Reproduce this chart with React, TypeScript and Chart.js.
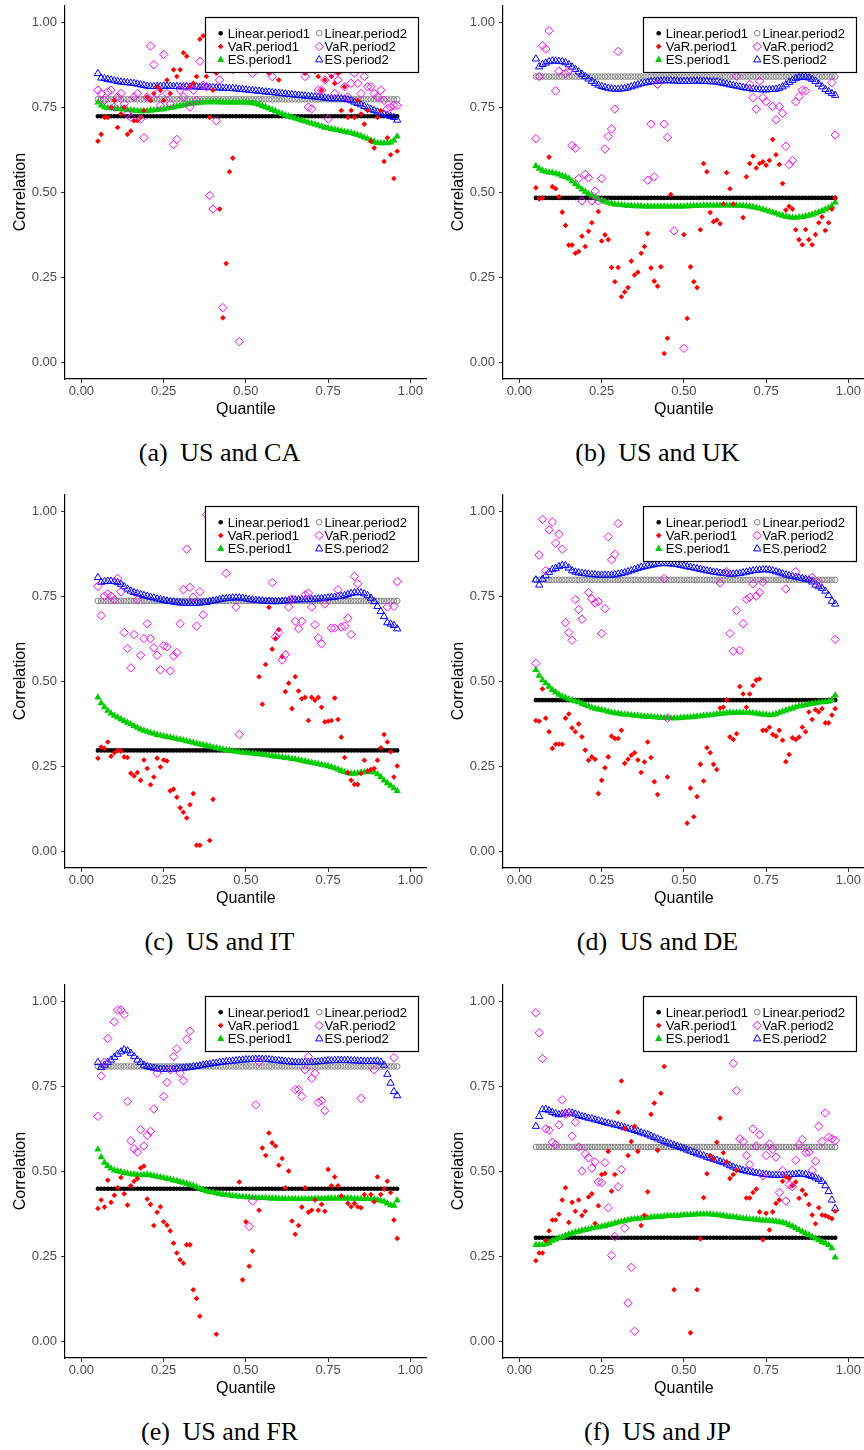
import React, { useEffect, useRef } from "react";
import { Chart, registerables } from "chart.js";

Chart.register(...registerables);

// ---------------- DATA ----------------
const QUANTILES = [
  0.05, 0.06, 0.07, 0.08, 0.09, 0.1, 0.11, 0.12, 0.13, 0.14,
  0.15, 0.16, 0.17, 0.18, 0.19, 0.2, 0.21, 0.22, 0.23, 0.24,
  0.25, 0.26, 0.27, 0.28, 0.29, 0.3, 0.31, 0.32, 0.33, 0.34,
  0.35, 0.36, 0.37, 0.38, 0.39, 0.4, 0.41, 0.42, 0.43, 0.44,
  0.45, 0.46, 0.47, 0.48, 0.49, 0.5, 0.51, 0.52, 0.53, 0.54,
  0.55, 0.56, 0.57, 0.58, 0.59, 0.6, 0.61, 0.62, 0.63, 0.64,
  0.65, 0.66, 0.67, 0.68, 0.69, 0.7, 0.71, 0.72, 0.73, 0.74,
  0.75, 0.76, 0.77, 0.78, 0.79, 0.8, 0.81, 0.82, 0.83, 0.84,
  0.85, 0.86, 0.87, 0.88, 0.89, 0.9, 0.91, 0.92, 0.93, 0.94,
  0.95, 0.96,
];
const TICK_VALUES = [0, 0.25, 0.5, 0.75, 1];
const SERIES_NAMES = ["Linear.period1", "Linear.period2", "VaR.period1", "VaR.period2", "ES.period1", "ES.period2"];

// (a) US and CA
const LINEAR_A = [0.723, 0.773];
const VAR1_A = [
  0.65, 0.67, 0.72, 0.72, 0.75, 0.77, 0.69, 0.73, 0.75, 0.67,
  0.68, 0.71, 0.71, 0.72, 0.74, 0.78, 0.77, 0.79, 0.81, 0.8,
  0.77, 0.83, 0.79, 0.86, 0.84, 0.86, 0.91, 0.9, 0.81, 0.82,
  0.84, 0.95, 0.96, 0.84, 0.72, 0.8, 0.85, 0.45, 0.13, 0.29,
  0.56, 0.6, 0.88, 0.92, 0.87, 0.9, 0.93, 0.89, 0.86, 0.91,
  0.94, 0.88, 0.85, 0.9, 0.87, 0.83, 0.92, 0.95, 0.9, 0.88,
  0.86, 0.91, 0.89, 0.85, 0.88, 0.92, 0.87, 0.84, 0.8, 0.83,
  0.86, 0.84, 0.82, 0.85, 0.74, 0.81, 0.72, 0.74, 0.72, 0.77,
  0.73, 0.7, 0.74, 0.65, 0.63, 0.72, 0.74, 0.59, 0.66, 0.61,
  0.54, 0.62,
];
const VAR2_A = [
  0.8, 0.79, 0.77, 0.795, 0.8, 0.75, 0.78, 0.79, 0.76, 0.73,
  0.72, 0.78, 0.79, 0.715, 0.66, 0.78, 0.93, 0.875, 0.79, 0.755,
  0.905, 0.79, 0.76, 0.64, 0.655, 0.8, 0.78, 0.81, 0.75, 0.8,
  0.77, 0.885, 0.815, 0.81, 0.49, 0.45, 0.71, 0.83, 0.16, 0.88,
  0.94, 0.86, 0.9, 0.06, 0.92, 0.88, 0.95, 0.85, 0.9, 0.87,
  0.93, 0.89, 0.86, 0.84, 0.9, 0.92, 0.88, 1.0, 1.0, 0.94,
  0.9, 0.87, 0.91, 0.84, 0.75, 0.745, 0.86, 0.8, 0.8, 0.83,
  0.715, 0.85, 0.79, 0.83, 0.86, 0.81, 0.78, 0.82, 0.85, 0.82,
  0.79, 0.84, 0.81, 0.81, 0.79, 0.78, 0.8, 0.77, 0.745, 0.75,
  0.755, 0.755,
];
const ES1_A = [
  0.764, 0.755, 0.75, 0.748, 0.747, 0.746, 0.745, 0.744, 0.743, 0.742,
  0.741, 0.74, 0.739, 0.738, 0.738, 0.739, 0.74, 0.741, 0.742, 0.743,
  0.744, 0.746, 0.748, 0.75, 0.752, 0.754, 0.756, 0.758, 0.76, 0.761,
  0.762, 0.763, 0.764, 0.765, 0.765, 0.765, 0.765, 0.765, 0.764, 0.764,
  0.764, 0.764, 0.764, 0.764, 0.764, 0.764, 0.763, 0.762, 0.76, 0.757,
  0.754, 0.75, 0.746, 0.742, 0.738, 0.734, 0.73, 0.726, 0.723, 0.72,
  0.717, 0.714, 0.711, 0.708, 0.705, 0.702, 0.699, 0.696, 0.693, 0.69,
  0.688, 0.686, 0.684, 0.682, 0.68, 0.678, 0.676, 0.674, 0.671, 0.668,
  0.665, 0.661, 0.657, 0.652, 0.648, 0.645, 0.644, 0.644, 0.645, 0.646,
  0.652, 0.664,
];
const ES2_A = [
  0.849, 0.836, 0.834, 0.832, 0.83, 0.828, 0.826, 0.824, 0.823, 0.822,
  0.821, 0.82, 0.818, 0.816, 0.814, 0.812, 0.811, 0.811, 0.811, 0.811,
  0.812, 0.812, 0.812, 0.811, 0.811, 0.81, 0.81, 0.81, 0.81, 0.81,
  0.81, 0.809, 0.809, 0.809, 0.808, 0.808, 0.807, 0.807, 0.806, 0.806,
  0.805, 0.805, 0.804, 0.803, 0.802, 0.801, 0.8, 0.799, 0.798, 0.797,
  0.796, 0.795, 0.794, 0.793, 0.792, 0.791, 0.79, 0.789, 0.788, 0.787,
  0.786, 0.785, 0.784, 0.783, 0.782, 0.781, 0.78, 0.779, 0.778, 0.777,
  0.776, 0.775, 0.775, 0.775, 0.775, 0.774, 0.772, 0.769, 0.765, 0.761,
  0.757, 0.752, 0.748, 0.744, 0.74, 0.736, 0.732, 0.729, 0.726, 0.723,
  0.72, 0.712,
];

// (b) US and UK
const LINEAR_B = [0.483, 0.84];
const VAR1_B = [
  0.513, 0.48, 0.483, null, 0.603, 0.516, 0.51, 0.486, 0.441, 0.402,
  0.344, 0.344, 0.32, 0.325, 0.37, 0.34, 0.385, 0.41, null, 0.443,
  0.356, 0.374, 0.36, 0.278, 0.236, 0.278, 0.192, 0.206, 0.219, 0.297,
  0.256, 0.264, 0.32, 0.34, 0.378, 0.277, 0.238, 0.223, 0.28, 0.025,
  0.07, 0.493, null, null, null, 0.375, 0.128, 0.28, 0.236, 0.219,
  0.389, 0.584, 0.56, 0.44, 0.413, 0.418, 0.407, 0.465, 0.557, 0.51,
  0.465, null, null, 0.425, 0.545, 0.584, 0.606, 0.571, 0.584, 0.589,
  0.579, 0.593, 0.655, 0.61, 0.581, 0.525, 0.447, 0.458, 0.45, 0.389,
  0.36, 0.345, 0.39, 0.36, 0.345, 0.375, 0.41, 0.427, 0.387, 0.41,
  0.45, 0.483,
];
const VAR2_B = [
  0.657, 0.84, 0.931, 0.921, 0.975, null, 0.798, 0.856, null, 0.849,
  0.856, 0.637, 0.629, 0.54, 0.474, 0.552, 0.542, 0.474, 0.503, 0.474,
  0.54, 0.627, 0.664, 0.686, 0.744, 0.914, null, null, null, null,
  null, null, null, null, 0.535, 0.7, 0.545, 0.817, null, 0.7,
  0.661, null, 0.386, null, null, 0.04, null, null, null, null,
  null, null, null, null, null, null, null, null, null, null,
  null, 0.841, null, null, null, 0.817, 0.778, 0.744, 0.827, 0.778,
  0.766, null, 0.752, 0.713, 0.752, 0.732, 0.635, 0.581, 0.593, 0.766,
  0.781, 0.8, 0.798, null, null, null, null, null, null, null,
  0.822, 0.668,
];
const ES1_B = [
  0.577, 0.569, 0.563, 0.56, 0.558, 0.557, 0.555, 0.552, 0.548, 0.545,
  0.54, 0.532, 0.524, 0.516, 0.508, 0.501, 0.495, 0.49, 0.485, 0.48,
  0.476, 0.472, 0.469, 0.466, 0.464, 0.463, 0.462, 0.461, 0.46, 0.46,
  0.459, 0.459, 0.459, 0.458, 0.458, 0.458, 0.458, 0.458, 0.458, 0.458,
  0.458, 0.458, 0.458, 0.458, 0.458, 0.458, 0.459, 0.459, 0.46, 0.46,
  0.46, 0.461, 0.461, 0.461, 0.461, 0.461, 0.461, 0.461, 0.461, 0.461,
  0.461, 0.461, 0.46, 0.46, 0.459, 0.458, 0.456, 0.454, 0.452, 0.449,
  0.446, 0.443, 0.44, 0.437, 0.434, 0.431, 0.428, 0.426, 0.425, 0.425,
  0.426, 0.427, 0.429, 0.431, 0.434, 0.437, 0.441, 0.445, 0.449, 0.453,
  0.459, 0.47,
];
const ES2_B = [
  0.892, 0.869, 0.876, 0.88, 0.884, 0.886, 0.886, 0.885, 0.884, 0.881,
  0.875, 0.868, 0.861, 0.854, 0.847, 0.84, 0.833, 0.826, 0.82, 0.815,
  0.811, 0.808, 0.806, 0.804, 0.803, 0.803, 0.804, 0.805, 0.807, 0.81,
  0.813, 0.816, 0.819, 0.821, 0.823, 0.825, 0.826, 0.827, 0.827, 0.828,
  0.828, 0.828, 0.827, 0.827, 0.826, 0.826, 0.826, 0.826, 0.827, 0.827,
  0.827, 0.826, 0.826, 0.825, 0.825, 0.824, 0.822, 0.82, 0.818, 0.816,
  0.814, 0.812, 0.81, 0.808, 0.806, 0.805, 0.803, 0.802, 0.802, 0.801,
  0.801, 0.802, 0.802, 0.803, 0.806, 0.81, 0.816, 0.823, 0.829, 0.834,
  0.837, 0.838, 0.838, 0.836, 0.832, 0.826, 0.818, 0.81, 0.802, 0.796,
  0.79, 0.785,
];

// (c) US and IT
const LINEAR_C = [0.296, 0.736];
const VAR1_C = [
  0.273, 0.306, 0.302, 0.321, 0.279, 0.289, 0.296, 0.294, 0.277, 0.275,
  0.229, 0.221, 0.231, 0.208, 0.268, 0.243, 0.195, 0.218, 0.273, 0.247,
  0.268, 0.265, 0.177, 0.182, 0.158, 0.127, 0.114, 0.097, 0.136, 0.169,
  0.017, 0.017, null, null, 0.031, 0.152, null, null, null, null,
  null, null, null, null, null, null, null, null, null, 0.513,
  0.432, 0.549, 0.717, 0.594, 0.625, 0.652, 0.572, 0.469, 0.494, 0.419,
  0.513, 0.471, 0.448, 0.452, 0.384, 0.452, 0.444, 0.452, 0.423, 0.38,
  0.382, 0.384, 0.45, 0.387, 0.335, 0.275, 0.23, 0.208, 0.196, 0.196,
  0.228, 0.267, 0.235, 0.24, 0.243, 0.267, 0.304, 0.343, 0.321, 0.292,
  0.218, 0.25,
];
const VAR2_C = [
  0.779, 0.693, 0.75, 0.757, 0.75, 0.74, 0.802, 0.763, 0.643, 0.596,
  0.539, 0.637, 0.74, 0.576, 0.625, 0.669, 0.625, 0.598, 0.576, 0.533,
  0.604, 0.601, 0.53, 0.574, 0.584, 0.669, 0.769, 0.888, 0.776, 0.747,
  0.662, 0.763, 0.695, 0.99, null, null, null, null, null, 0.817,
  null, null, 0.718, 0.343, null, null, null, null, null, null,
  null, null, null, 0.79, 0.63, 0.643, 0.562, 0.578, 0.718, 0.742,
  0.676, 0.654, 0.676, 0.754, 0.759, 0.718, 0.666, 0.627, 0.61, 0.727,
  null, 0.656, 0.656, 0.769, 0.659, 0.662, 0.685, 0.637, 0.808, 0.786,
  null, null, null, null, null, null, null, null, 0.718, null,
  0.72, 0.793,
];
const ES1_C = [
  0.452, 0.435, 0.423, 0.413, 0.405, 0.398, 0.393, 0.388, 0.383, 0.378,
  0.373, 0.368, 0.363, 0.358, 0.354, 0.351, 0.348, 0.345, 0.342, 0.34,
  0.338, 0.336, 0.334, 0.332, 0.33, 0.328, 0.326, 0.323, 0.321, 0.319,
  0.316, 0.314, 0.312, 0.31, 0.308, 0.305, 0.303, 0.301, 0.299, 0.297,
  0.296, 0.294, 0.293, 0.291, 0.29, 0.289, 0.288, 0.287, 0.286, 0.285,
  0.284, 0.283, 0.281, 0.28, 0.278, 0.277, 0.276, 0.274, 0.273, 0.271,
  0.27, 0.268, 0.266, 0.264, 0.262, 0.26, 0.258, 0.256, 0.254, 0.252,
  0.25, 0.247, 0.244, 0.24, 0.236, 0.233, 0.23, 0.228, 0.228, 0.229,
  0.231, 0.232, 0.233, 0.233, 0.231, 0.226, 0.218, 0.208, 0.2, 0.192,
  0.185, 0.177,
];
const ES2_C = [
  0.805, 0.791, 0.793, 0.794, 0.794, 0.793, 0.79, 0.785, 0.778, 0.771,
  0.765, 0.761, 0.758, 0.755, 0.752, 0.75, 0.747, 0.745, 0.742, 0.74,
  0.738, 0.736, 0.734, 0.733, 0.731, 0.73, 0.73, 0.729, 0.729, 0.729,
  0.729, 0.73, 0.731, 0.732, 0.734, 0.736, 0.738, 0.74, 0.742, 0.743,
  0.744, 0.745, 0.745, 0.745, 0.744, 0.742, 0.74, 0.739, 0.738, 0.737,
  0.736, 0.735, 0.735, 0.734, 0.734, 0.734, 0.735, 0.736, 0.737, 0.738,
  0.739, 0.739, 0.74, 0.74, 0.74, 0.74, 0.741, 0.742, 0.743, 0.744,
  0.745, 0.746, 0.747, 0.749, 0.75, 0.752, 0.755, 0.758, 0.76, 0.761,
  0.76, 0.757, 0.752, 0.744, 0.734, 0.72, 0.705, 0.69, 0.672, 0.668,
  0.664, 0.654,
];

// (d) US and DE
const LINEAR_D = [0.444, 0.798];
const VAR1_D = [
  0.384, 0.382, 0.477, 0.391, 0.351, 0.302, 0.314, 0.315, 0.314, 0.391,
  0.403, 0.362, 0.351, 0.374, 0.336, 0.297, 0.267, 0.277, 0.27, 0.169,
  0.208, 0.245, 0.277, 0.338, 0.331, 0.331, 0.355, 0.258, 0.27, 0.282,
  0.289, 0.268, 0.231, 0.262, 0.321, 0.275, 0.204, 0.166, null, null,
  0.218, null, null, null, null, null, 0.082, 0.185, 0.101, 0.16,
  0.255, 0.206, 0.304, 0.289, 0.255, 0.24, 0.421, 0.423, 0.445, 0.336,
  0.328, 0.345, 0.484, 0.462, 0.423, 0.462, 0.487, 0.503, 0.506, 0.355,
  0.355, 0.364, 0.343, 0.338, 0.355, 0.326, 0.263, 0.284, 0.333, 0.328,
  0.335, 0.364, 0.351, 0.409, 0.387, 0.416, 0.409, 0.419, 0.377, 0.377,
  0.4, 0.419,
];
const VAR2_D = [
  0.552, 0.871, 0.976, 0.825, 0.945, 0.968, 0.906, 0.932, 0.888, 0.672,
  0.643, 0.62, 0.74, 0.711, 0.682, null, 0.761, 0.742, 0.73, 0.734,
  0.64, 0.713, 0.925, 0.857, 0.873, 0.964, null, null, null, null,
  null, null, null, null, null, null, null, null, null, 0.802,
  0.391, null, null, null, null, null, null, null, null, null,
  null, null, null, null, null, null, 0.789, null, 0.822, 0.64,
  0.588, 0.708, 0.59, 0.669, 0.74, 0.747, 0.786, 0.75, 0.761, 0.791,
  null, null, null, null, null, null, 0.771, null, null, 0.822,
  null, null, null, null, 0.805, null, 0.79, null, null, null,
  null, 0.623,
];
const ES1_D = [
  0.533, 0.516, 0.503, 0.494, 0.484, 0.474, 0.467, 0.46, 0.455, 0.451,
  0.447, 0.444, 0.441, 0.438, 0.434, 0.43, 0.426, 0.422, 0.419, 0.417,
  0.415, 0.413, 0.41, 0.408, 0.406, 0.405, 0.403, 0.402, 0.401, 0.4,
  0.399, 0.398, 0.397, 0.396, 0.395, 0.395, 0.394, 0.393, 0.392, 0.392,
  0.391, 0.391, 0.391, 0.391, 0.392, 0.393, 0.393, 0.394, 0.395, 0.396,
  0.397, 0.398, 0.399, 0.4, 0.401, 0.403, 0.404, 0.405, 0.406, 0.407,
  0.407, 0.407, 0.407, 0.407, 0.407, 0.407, 0.406, 0.405, 0.403, 0.402,
  0.401, 0.4, 0.401, 0.403, 0.407, 0.411, 0.414, 0.417, 0.42, 0.423,
  0.426, 0.428, 0.43, 0.432, 0.434, 0.435, 0.437, 0.438, 0.439, 0.44,
  0.445, 0.458,
];
const ES2_D = [
  0.798, 0.783, 0.8, 0.81, 0.82, 0.828, 0.832, 0.837, 0.841, 0.84,
  0.833, 0.825, 0.821, 0.819, 0.817, 0.816, 0.815, 0.814, 0.813, 0.812,
  0.812, 0.812, 0.812, 0.812, 0.813, 0.815, 0.817, 0.819, 0.822, 0.825,
  0.829, 0.832, 0.835, 0.837, 0.839, 0.841, 0.843, 0.845, 0.846, 0.846,
  0.846, 0.845, 0.844, 0.843, 0.841, 0.839, 0.837, 0.835, 0.833, 0.831,
  0.829, 0.827, 0.825, 0.823, 0.821, 0.82, 0.818, 0.817, 0.816, 0.815,
  0.815, 0.816, 0.817, 0.819, 0.821, 0.823, 0.825, 0.826, 0.827, 0.828,
  0.828, 0.827, 0.825, 0.822, 0.819, 0.816, 0.813, 0.81, 0.808, 0.806,
  0.804, 0.802, 0.8, 0.798, 0.792, 0.783, 0.778, 0.773, 0.765, 0.752,
  0.735, 0.727,
];

// (e) US and FR
const LINEAR_E = [0.448, 0.808];
const VAR1_E = [
  0.39, 0.415, 0.394, 0.473, 0.408, 0.429, 0.451, 0.481, 0.433, 0.4,
  0.457, 0.47, 0.478, 0.509, 0.515, 0.418, 0.402, 0.34, 0.379, 0.395,
  0.351, 0.341, 0.324, 0.288, 0.259, 0.239, 0.229, 0.283, 0.283, 0.151,
  0.125, 0.073, null, null, null, null, 0.02, null, null, null,
  null, null, null, 0.468, 0.18, 0.351, 0.22, 0.265, null, 0.385,
  0.568, 0.546, 0.612, 0.583, 0.574, 0.517, 0.537, 0.451, 0.5, 0.353,
  0.314, 0.34, 0.394, 0.451, 0.379, 0.385, 0.415, 0.385, 0.402, 0.382,
  0.505, 0.457, 0.483, 0.457, 0.427, null, 0.405, 0.395, 0.405, 0.395,
  0.392, 0.431, null, 0.431, 0.41, 0.483, 0.431, 0.447, 0.47, 0.437,
  0.356, 0.302,
];
const VAR2_E = [
  0.661, 0.78, 0.821, 0.89, null, 0.939, 0.974, 0.974, 0.961, 0.705,
  0.589, 0.566, 0.556, 0.622, 0.574, 0.605, 0.617, 0.683, 0.788, null,
  0.72, 0.761, 0.798, 0.837, 0.86, 0.788, 0.766, 0.888, 0.912, null,
  null, null, null, null, null, null, null, null, null, null,
  null, null, null, null, null, null, 0.337, 0.412, 0.695, 0.821,
  null, null, null, null, null, null, null, null, null, null,
  0.74, 0.74, 0.72, 0.798, 0.837, 0.773, 0.788, 0.702, 0.707, 0.678,
  null, null, null, null, null, null, null, null, null, null,
  0.714, null, null, null, 0.798, null, null, null, null, null,
  0.834, null,
];
const ES1_E = [
  0.564, 0.541, 0.525, 0.515, 0.508, 0.502, 0.5, 0.498, 0.495, 0.493,
  0.491, 0.49, 0.489, 0.488, 0.489, 0.49, 0.488, 0.486, 0.484, 0.482,
  0.48, 0.478, 0.476, 0.473, 0.471, 0.468, 0.466, 0.463, 0.46, 0.457,
  0.453, 0.449, 0.445, 0.441, 0.439, 0.437, 0.435, 0.433, 0.431, 0.43,
  0.429, 0.427, 0.426, 0.425, 0.424, 0.423, 0.423, 0.422, 0.422, 0.421,
  0.421, 0.421, 0.42, 0.42, 0.42, 0.419, 0.419, 0.419, 0.418, 0.418,
  0.418, 0.418, 0.418, 0.418, 0.418, 0.418, 0.419, 0.419, 0.419, 0.419,
  0.42, 0.42, 0.42, 0.42, 0.42, 0.42, 0.42, 0.42, 0.419, 0.419,
  0.418, 0.418, 0.418, 0.418, 0.417, 0.415, 0.413, 0.41, 0.405, 0.4,
  0.398, 0.414,
];
const ES2_E = [
  0.82, 0.805, 0.812, 0.82, 0.827, 0.835, 0.844, 0.851, 0.857, 0.854,
  0.847, 0.837, 0.827, 0.82, 0.812, 0.808, 0.805, 0.803, 0.801, 0.8,
  0.8, 0.8, 0.8, 0.8, 0.801, 0.802, 0.803, 0.804, 0.805, 0.807,
  0.808, 0.81, 0.812, 0.814, 0.815, 0.817, 0.818, 0.82, 0.821, 0.822,
  0.823, 0.824, 0.825, 0.826, 0.827, 0.828, 0.828, 0.829, 0.829, 0.829,
  0.829, 0.829, 0.828, 0.827, 0.826, 0.825, 0.824, 0.823, 0.822, 0.821,
  0.82, 0.82, 0.82, 0.82, 0.82, 0.82, 0.821, 0.822, 0.823, 0.824,
  0.825, 0.825, 0.826, 0.826, 0.826, 0.826, 0.826, 0.825, 0.825, 0.824,
  0.824, 0.823, 0.823, 0.823, 0.823, 0.824, 0.821, 0.812, 0.785, 0.759,
  0.734, 0.722,
];

// (f) US and JP
const LINEAR_F = [0.304, 0.571];
const VAR1_F = [
  0.236, 0.259, 0.259, 0.295, 0.324, 0.356, 0.356, 0.373, 0.415, 0.451,
  0.349, 0.408, 0.382, 0.415, 0.369, 0.382, 0.424, 0.433, 0.346, 0.398,
  0.49, 0.493, 0.558, 0.441, 0.49, 0.673, 0.765, 0.626, 0.546, 0.587,
  0.632, 0.558, 0.34, 0.37, 0.439, 0.667, 0.7, 0.561, 0.729, 0.808,
  null, null, 0.151, null, null, null, null, 0.024, null, 0.151,
  0.3, 0.422, 0.492, 0.546, 0.535, 0.585, 0.656, 0.554, 0.527, 0.478,
  0.49, 0.502, null, null, 0.421, 0.421, 0.437, 0.447, 0.38, 0.298,
  0.376, 0.327, 0.38, 0.405, 0.415, 0.47, 0.483, 0.478, 0.457, 0.468,
  0.42, 0.444, 0.431, 0.402, 0.371, 0.345, 0.392, 0.371, 0.369, 0.365,
  0.36, 0.382,
];
const VAR2_F = [
  0.966, 0.907, 0.831, 0.624, 0.62, 0.585, 0.578, 0.636, 0.71, 0.668,
  0.671, 0.603, 0.644, 0.571, 0.5, 0.551, 0.539, 0.509, 0.527, 0.468,
  0.466, 0.525, 0.392, 0.252, 0.307, 0.454, 0.505, 0.332, 0.112, 0.217,
  0.029, null, null, null, null, null, null, null, null, null,
  null, null, null, null, null, null, null, null, null, null,
  null, null, null, null, null, null, null, null, null, null,
  0.817, 0.737, 0.595, 0.587, 0.546, 0.519, 0.624, 0.574, 0.607, 0.486,
  0.546, 0.58, 0.564, 0.541, 0.437, 0.502, 0.412, 0.46, 0.454, 0.532,
  0.578, 0.593, 0.554, 0.556, 0.502, 0.529, 0.632, 0.587, 0.671, 0.6,
  0.595, 0.59,
];
const ES1_F = [
  0.283, 0.283, 0.283, 0.285, 0.289, 0.295, 0.299, 0.303, 0.306, 0.31,
  0.314, 0.317, 0.32, 0.322, 0.325, 0.327, 0.329, 0.332, 0.334, 0.335,
  0.337, 0.339, 0.342, 0.344, 0.347, 0.349, 0.351, 0.354, 0.356, 0.358,
  0.359, 0.36, 0.361, 0.362, 0.363, 0.364, 0.365, 0.366, 0.366, 0.367,
  0.368, 0.368, 0.369, 0.369, 0.37, 0.371, 0.371, 0.372, 0.372, 0.373,
  0.373, 0.373, 0.373, 0.373, 0.372, 0.371, 0.37, 0.369, 0.367, 0.366,
  0.365, 0.364, 0.362, 0.361, 0.36, 0.359, 0.358, 0.357, 0.356, 0.355,
  0.355, 0.354, 0.353, 0.352, 0.35, 0.349, 0.346, 0.342, 0.337, 0.332,
  0.327, 0.322, 0.317, 0.312, 0.307, 0.302, 0.297, 0.292, 0.288, 0.283,
  0.273, 0.246,
];
const ES2_F = [
  0.632, 0.661, 0.681, 0.682, 0.678, 0.673, 0.669, 0.666, 0.668, 0.671,
  0.673, 0.671, 0.668, 0.664, 0.661, 0.659, 0.656, 0.654, 0.651, 0.649,
  0.646, 0.643, 0.641, 0.639, 0.636, 0.634, 0.631, 0.628, 0.625, 0.623,
  0.62, 0.617, 0.613, 0.61, 0.607, 0.603, 0.599, 0.595, 0.591, 0.587,
  0.583, 0.58, 0.576, 0.573, 0.569, 0.566, 0.562, 0.559, 0.555, 0.551,
  0.548, 0.545, 0.541, 0.538, 0.535, 0.532, 0.528, 0.525, 0.521, 0.516,
  0.512, 0.508, 0.505, 0.502, 0.5, 0.498, 0.496, 0.494, 0.493, 0.491,
  0.49, 0.489, 0.488, 0.488, 0.488, 0.488, 0.488, 0.489, 0.49, 0.491,
  0.492, 0.491, 0.49, 0.487, 0.484, 0.48, 0.476, 0.47, 0.457, 0.44,
  0.415, 0.39,
];

// ---------------- STYLES / LAYOUT ----------------
const SANS = '"Liberation Sans", Arial, Helvetica, sans-serif';
const SERIF = '"Liberation Serif", "Times New Roman", serif';

const STYLES = [
  { kind: "circle", radius: 2.3, fill: "#000000", stroke: "#000000", lw: 0 },
  { kind: "circle", radius: 2.8, fill: "rgba(0,0,0,0)", stroke: "#808080", lw: 1 },
  { kind: "rectRot", radius: 2.8, fill: "#FF0000", stroke: "#FF0000", lw: 0 },
  { kind: "rectRot", radius: 4.2, fill: "rgba(0,0,0,0)", stroke: "#FF00FF", lw: 1 },
  { kind: "triangle", radius: 4.2, fill: "#00CD00", stroke: "#00CD00", lw: 0 },
  { kind: "triangle", radius: 4.2, fill: "rgba(0,0,0,0)", stroke: "#0000FF", lw: 1 },
];

const PANELS = [
  { tag: "(a)", caption: "US and CA", linear: LINEAR_A, var1: VAR1_A, var2: VAR2_A, es1: ES1_A, es2: ES2_A, col: 0, row: 0 },
  { tag: "(b)", caption: "US and UK", linear: LINEAR_B, var1: VAR1_B, var2: VAR2_B, es1: ES1_B, es2: ES2_B, col: 1, row: 0 },
  { tag: "(c)", caption: "US and IT", linear: LINEAR_C, var1: VAR1_C, var2: VAR2_C, es1: ES1_C, es2: ES2_C, col: 0, row: 1 },
  { tag: "(d)", caption: "US and DE", linear: LINEAR_D, var1: VAR1_D, var2: VAR2_D, es1: ES1_D, es2: ES2_D, col: 1, row: 1 },
  { tag: "(e)", caption: "US and FR", linear: LINEAR_E, var1: VAR1_E, var2: VAR2_E, es1: ES1_E, es2: ES2_E, col: 0, row: 2 },
  { tag: "(f)", caption: "US and JP", linear: LINEAR_F, var1: VAR1_F, var2: VAR2_F, es1: ES1_F, es2: ES2_F, col: 1, row: 2 },
];

const COL_LEFT = [0, 438];
const ROW_TOP = [0, 489, 979];
const CW = 432;
const CH = 420;

function drawSymbol(ctx: CanvasRenderingContext2D, s: any, x: number, y: number) {
  const r = s.radius;
  ctx.beginPath();
  if (s.kind === "circle") {
    ctx.arc(x, y, r, 0, Math.PI * 2);
  } else if (s.kind === "rectRot") {
    ctx.moveTo(x - r, y);
    ctx.lineTo(x, y - r);
    ctx.lineTo(x + r, y);
    ctx.lineTo(x, y + r);
    ctx.closePath();
  } else {
    const c = Math.cos(Math.PI / 6) * r;
    ctx.moveTo(x, y - r);
    ctx.lineTo(x + c, y + r / 2);
    ctx.lineTo(x - c, y + r / 2);
    ctx.closePath();
  }
  ctx.fillStyle = s.fill;
  ctx.fill();
  if (s.lw > 0) {
    ctx.strokeStyle = s.stroke;
    ctx.lineWidth = s.lw;
    ctx.stroke();
  }
}

const decorPlugin = {
  id: "decor",
  afterDraw(chart: any) {
    const ctx = chart.ctx as CanvasRenderingContext2D;
    const { left, right, top, bottom } = chart.chartArea;
    ctx.save();
    // axis titles
    ctx.fillStyle = "#000000";
    ctx.font = `16px ${SANS}`;
    ctx.textAlign = "center";
    ctx.textBaseline = "alphabetic";
    ctx.fillText("Quantile", (left + right) / 2, 413.5);
    ctx.save();
    ctx.translate(25, (top + bottom) / 2);
    ctx.rotate(-Math.PI / 2);
    ctx.fillText("Correlation", 0, 0);
    ctx.restore();

    // legend box
    const bx = 205.5, by = 17.5, bw = 213, bh = 55;
    ctx.fillStyle = "#FFFFFF";
    ctx.fillRect(bx, by, bw, bh);
    ctx.strokeStyle = "#000000";
    ctx.lineWidth = 1.2;
    ctx.strokeRect(bx, by, bw, bh);

    const baselines = [37.8, 51.1, 64.4];
    const cols = [
      { sym: 220.7, text: 227.7, idx: [0, 2, 4] },
      { sym: 319.2, text: 324.5, idx: [1, 3, 5] },
    ];
    ctx.font = `13px ${SANS}`;
    ctx.textAlign = "left";
    cols.forEach((c) => {
      c.idx.forEach((si, r) => {
        drawSymbol(ctx, STYLES[si], c.sym, baselines[r] - 4.6);
        ctx.fillStyle = "#000000";
        ctx.fillText(SERIES_NAMES[si], c.text, baselines[r]);
      });
    });
    ctx.restore();
  },
};

function toPoints(arr: (number | null)[]) {
  return QUANTILES.map((q, i) => ({ x: q, y: arr[i] }));
}

function constPoints(v: number) {
  return QUANTILES.map((q) => ({ x: q, y: v }));
}

function makeDataset(label: string, data: any[], s: any) {
  return {
    label,
    data,
    showLine: false,
    pointStyle: s.kind,
    pointRadius: s.radius,
    pointBackgroundColor: s.fill,
    pointBorderColor: s.stroke,
    pointBorderWidth: s.lw,
    pointHoverRadius: s.radius,
  };
}

function PanelChart({ p }: { p: any }) {
  const ref = useRef<HTMLCanvasElement | null>(null);
  useEffect(() => {
    if (!ref.current) return;
    const tickFont = { family: SANS, size: 13 };
    const series = [
      constPoints(p.linear[0]),
      constPoints(p.linear[1]),
      toPoints(p.var1),
      toPoints(p.var2),
      toPoints(p.es1),
      toPoints(p.es2),
    ];
    // first dataset is drawn on top
    const drawOrder = [3, 2, 5, 4, 1, 0];
    const datasets = drawOrder.map((si) => makeDataset(SERIES_NAMES[si], series[si], STYLES[si]));
    const axisCommon = {
      type: "linear",
      min: -0.05,
      max: 1.05,
      afterBuildTicks: (s: any) => {
        s.ticks = TICK_VALUES.map((v) => ({ value: v }));
      },
      ticks: {
        callback: (v: any) => Number(v).toFixed(2),
        color: "#4D4D4D",
        font: tickFont,
        autoSkip: false,
        maxRotation: 0,
        minRotation: 0,
      },
      grid: {
        display: true,
        drawOnChartArea: false,
        drawTicks: true,
        tickLength: 4,
        color: "#333333",
        lineWidth: 1,
      },
      border: { display: true, color: "#000000", width: 1.2 },
      title: { display: false },
    };
    const chart = new Chart(ref.current, {
      type: "scatter",
      data: { datasets },
      options: {
        responsive: false,
        maintainAspectRatio: false,
        animation: false,
        devicePixelRatio: 1,
        events: [],
        layout: { padding: { left: 0, right: 5, top: 2, bottom: 0 } },
        plugins: { legend: { display: false }, tooltip: { enabled: false } },
        scales: {
          x: {
            ...axisCommon,
            position: "bottom",
            ticks: { ...axisCommon.ticks, padding: 1 },
            afterFit: (s: any) => {
              s.height = CH - 379;
              s.paddingLeft = 0;
              s.paddingRight = 0;
            },
          },
          y: {
            ...axisCommon,
            position: "left",
            ticks: { ...axisCommon.ticks, padding: 4 },
            afterFit: (s: any) => {
              s.width = 65;
              s.paddingTop = 0;
              s.paddingBottom = 0;
            },
          },
        },
      } as any,
      plugins: [decorPlugin as any],
    } as any);
    return () => chart.destroy();
  }, [p]);
  return (
    <canvas
      ref={ref}
      width={CW}
      height={CH}
      style={{ position: "absolute", left: COL_LEFT[p.col], top: ROW_TOP[p.row], width: CW, height: CH }}
    />
  );
}

export default function App() {
  return (
    <div style={{ position: "absolute", left: 0, top: 0, width: 864, height: 1450, background: "#ffffff", overflow: "hidden" }}>
      {PANELS.map((p) => (
        <React.Fragment key={p.tag}>
          <PanelChart p={p} />
          <div
            style={{
              position: "absolute",
              left: COL_LEFT[p.col],
              top: ROW_TOP[p.row] + 438,
              width: 439,
              height: 30,
              lineHeight: "30px",
              textAlign: "center",
              whiteSpace: "nowrap",
              fontFamily: SERIF,
              fontSize: 26,
              color: "#000000",
            }}
          >
            <span>{p.tag}</span>
            <span style={{ marginLeft: 12.6 }}>{p.caption}</span>
          </div>
        </React.Fragment>
      ))}
    </div>
  );
}
